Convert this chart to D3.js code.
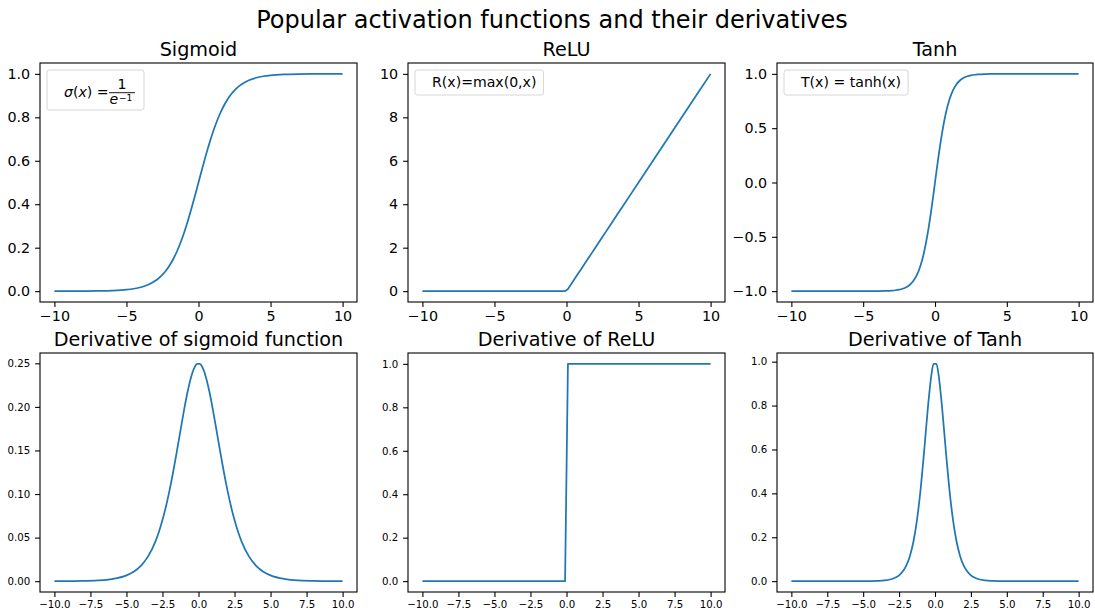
<!DOCTYPE html>
<html>
<head>
<meta charset="utf-8">
<script src="https://cdn.jsdelivr.net/npm/d3@7"></script>
<style>
  body { margin: 0; background: #fff; }
  text { font-family: "DejaVu Sans", sans-serif; fill: #000; }
</style>
</head>
<body>
<svg id="chart" width="1095" height="612"></svg>
<script>
// Sample points shared by every curve
const xs = [-10, -9, -8, -7, -6, -5, -4.5, -4, -3.5, -3, -2.75, -2.5, -2.25, -2, -1.75, -1.5, -1.25, -1, -0.75, -0.5, -0.25, -0.1,
            0.1, 0.25, 0.5, 0.75, 1, 1.25, 1.5, 1.75, 2, 2.25, 2.5, 2.75, 3, 3.5, 4, 4.5, 5, 6, 7, 8, 9, 10];

const sigmoidY = [0.00005, 0.00012, 0.00034, 0.00091, 0.00247, 0.00669, 0.01099, 0.01799, 0.02931, 0.04743, 0.06009, 0.07586,
                  0.09535, 0.11920, 0.14805, 0.18243, 0.22270, 0.26894, 0.32082, 0.37754, 0.43782, 0.47502,
                  0.52498, 0.56218, 0.62246, 0.67918, 0.73106, 0.77730, 0.81757, 0.85195, 0.88080, 0.90465, 0.92414,
                  0.93991, 0.95257, 0.97069, 0.98201, 0.98901, 0.99331, 0.99753, 0.99909, 0.99966, 0.99988, 0.99995];

const reluY = [0, 0, 0, 0, 0, 0, 0, 0, 0, 0, 0, 0, 0, 0, 0, 0, 0, 0, 0, 0, 0, 0,
               0.1, 0.25, 0.5, 0.75, 1, 1.25, 1.5, 1.75, 2, 2.25, 2.5, 2.75, 3, 3.5, 4, 4.5, 5, 6, 7, 8, 9, 10];

const tanhY = [-1, -1, -1, -0.99999, -0.99999, -0.99991, -0.99975, -0.99933, -0.99818, -0.99505, -0.99186, -0.98661,
               -0.97803, -0.96403, -0.94138, -0.90515, -0.84828, -0.76159, -0.63515, -0.46212, -0.24492, -0.09967,
               0.09967, 0.24492, 0.46212, 0.63515, 0.76159, 0.84828, 0.90515, 0.94138, 0.96403, 0.97803, 0.98661,
               0.99186, 0.99505, 0.99818, 0.99933, 0.99975, 0.99991, 0.99999, 0.99999, 1, 1, 1];

const dSigmoidY = [0.00005, 0.00012, 0.00034, 0.00091, 0.00247, 0.00665, 0.01087, 0.01766, 0.02845, 0.04518, 0.05648, 0.07011,
                   0.08626, 0.10499, 0.12613, 0.14915, 0.17310, 0.19661, 0.21789, 0.23500, 0.24613, 0.24938,
                   0.24938, 0.24613, 0.23500, 0.21789, 0.19661, 0.17310, 0.14915, 0.12613, 0.10499, 0.08626, 0.07011,
                   0.05648, 0.04518, 0.02845, 0.01766, 0.01087, 0.00665, 0.00247, 0.00091, 0.00034, 0.00012, 0.00005];

const dReluY = [0, 0, 0, 0, 0, 0, 0, 0, 0, 0, 0, 0, 0, 0, 0, 0, 0, 0, 0, 0, 0, 0,
                1, 1, 1, 1, 1, 1, 1, 1, 1, 1, 1, 1, 1, 1, 1, 1, 1, 1, 1, 1, 1, 1];

const dTanhY = [0, 0, 0, 0, 0.00002, 0.00018, 0.00049, 0.00134, 0.00364, 0.00987, 0.01621, 0.02660,
                0.04346, 0.07065, 0.11380, 0.18070, 0.28042, 0.41998, 0.59659, 0.78645, 0.94001, 0.99007,
                0.99007, 0.94001, 0.78645, 0.59659, 0.41998, 0.28042, 0.18070, 0.11380, 0.07065, 0.04346, 0.02660,
                0.01621, 0.00987, 0.00364, 0.00134, 0.00049, 0.00018, 0.00002, 0, 0, 0, 0];

// Tick values
const topXTicks = [-10, -5, 0, 5, 10];
const bottomXTicks = [-10, -7.5, -5, -2.5, 0, 2.5, 5, 7.5, 10];
const sigmoidTicks = [0, 0.2, 0.4, 0.6, 0.8, 1.0];
const reluTicks = [0, 2, 4, 6, 8, 10];
const tanhTicks = [-1, -0.5, 0, 0.5, 1];
const dSigmoidTicks = [0, 0.05, 0.10, 0.15, 0.20, 0.25];
const dReluTicks = [0, 0.2, 0.4, 0.6, 0.8, 1.0];
const dTanhTicks = [0, 0.2, 0.4, 0.6, 0.8, 1.0];

const suptitle = "Popular activation functions and their derivatives";
const titles = ["Sigmoid", "ReLU", "Tanh", "Derivative of sigmoid function", "Derivative of ReLU", "Derivative of Tanh"];
const legendLabels = [null, "R(x)=max(0,x)", "T(x) = tanh(x)"];

const LINE = "#1f77b4";
const svg = d3.select("#chart");

const cols = [{ l: 40, r: 357 }, { l: 408, r: 725 }, { l: 777, r: 1093 }];
const rows = [{ t: 63, b: 302 }, { t: 353, b: 592 }];

const panels = [
  { ys: sigmoidY, xt: topXTicks, yt: sigmoidTicks, xf: "d", yf: ".1f", fs: 14.3, curve: d3.curveMonotoneX },
  { ys: reluY, xt: topXTicks, yt: reluTicks, xf: "d", yf: "d", fs: 14.3, curve: d3.curveLinear },
  { ys: tanhY, xt: topXTicks, yt: tanhTicks, xf: "d", yf: ".1f", fs: 14.3, curve: d3.curveMonotoneX },
  { ys: dSigmoidY, xt: bottomXTicks, yt: dSigmoidTicks, xf: ".1f", yf: ".2f", fs: 10.2, curve: d3.curveMonotoneX },
  { ys: dReluY, xt: bottomXTicks, yt: dReluTicks, xf: ".1f", yf: ".1f", fs: 10.2, curve: d3.curveLinear },
  { ys: dTanhY, xt: bottomXTicks, yt: dTanhTicks, xf: ".1f", yf: ".1f", fs: 10.2, curve: d3.curveMonotoneX }
];

// padded domain, 5% of the data span on each side
function padded(values) {
  const [lo, hi] = d3.extent(values);
  const m = (hi - lo) * 0.05;
  return [lo - m, hi + m];
}

svg.append("text")
  .attr("x", 552).attr("y", 28)
  .attr("text-anchor", "middle")
  .style("font-size", "24px")
  .text(suptitle);

panels.forEach((p, i) => {
  const c = cols[i % 3], r = rows[Math.floor(i / 3)];
  const x = d3.scaleLinear().domain(padded(xs)).range([c.l, c.r]);
  const y = d3.scaleLinear().domain(padded(p.ys)).range([r.b, r.t]);
  const g = svg.append("g");

  const xAxis = g.append("g").attr("transform", `translate(0,${r.b})`)
    .call(d3.axisBottom(x).tickValues(p.xt).tickSize(4.9).tickPadding(3.6).tickFormat(d3.format(p.xf)));
  const yAxis = g.append("g").attr("transform", `translate(${c.l},0)`)
    .call(d3.axisLeft(y).tickValues(p.yt).tickSize(4.9).tickPadding(4.9).tickFormat(d3.format(p.yf)));
  [xAxis, yAxis].forEach(a => {
    a.select(".domain").remove();
    a.selectAll("line").attr("stroke", "#000").attr("stroke-width", 1.1);
    a.selectAll("text").attr("fill", "#000").style("font-size", p.fs + "px")
      .style("font-family", "'DejaVu Sans', sans-serif");
  });

  g.append("path")
    .datum(xs.map((v, k) => [v, p.ys[k]]))
    .attr("fill", "none")
    .attr("stroke", LINE)
    .attr("stroke-width", 1.75)
    .attr("stroke-linejoin", "round")
    .attr("d", d3.line().x(d => x(d[0])).y(d => y(d[1])).curve(p.curve));

  g.append("rect")
    .attr("x", c.l).attr("y", r.t)
    .attr("width", c.r - c.l).attr("height", r.b - r.t)
    .attr("fill", "none").attr("stroke", "#000").attr("stroke-width", 1.1);

  g.append("text")
    .attr("x", (c.l + c.r) / 2).attr("y", r.t - 7)
    .attr("text-anchor", "middle")
    .style("font-size", "19.2px")
    .text(titles[i]);

  // legends for the top row
  if (i === 1 || i === 2) {
    const bx = c.l + 7, by = r.t + 7;
    const box = g.append("rect").attr("x", bx).attr("y", by).attr("height", 25)
      .attr("rx", 2.5).attr("fill", "#fff").attr("fill-opacity", 0.8)
      .attr("stroke", "#d6d6d6").attr("stroke-width", 1);
    const t = g.append("text").attr("x", bx + 17).attr("y", by + 17.3)
      .style("font-size", "14.1px").text(legendLabels[i]);
    box.attr("width", t.node().getComputedTextLength() + 24);
  }
  if (i === 0) {
    const bx = c.l + 7, by = r.t + 7;
    g.append("rect").attr("x", bx).attr("y", by).attr("width", 97).attr("height", 40)
      .attr("rx", 2.5).attr("fill", "#fff").attr("fill-opacity", 0.8)
      .attr("stroke", "#d6d6d6").attr("stroke-width", 1);
    const lhs = g.append("text").attr("x", bx + 17).attr("y", by + 27).style("font-size", "14.1px");
    lhs.append("tspan").style("font-style", "italic").text("σ");
    lhs.append("tspan").text("(");
    lhs.append("tspan").style("font-style", "italic").text("x");
    lhs.append("tspan").text(")");
    lhs.append("tspan").text(" = ");
    const fx = bx + 62, fw = 26;
    g.append("line").attr("x1", fx).attr("x2", fx + fw)
      .attr("y1", by + 22.7).attr("y2", by + 22.7)
      .attr("stroke", "#000").attr("stroke-width", 0.9);
    g.append("text").attr("x", fx + fw / 2).attr("y", by + 19.2)
      .attr("text-anchor", "middle").style("font-size", "14.1px").text("1");
    g.append("text").attr("x", fx + 0.5).attr("y", by + 34.3)
      .style("font-size", "14.1px").style("font-style", "italic").text("e");
    g.append("text").attr("x", fx + 10).attr("y", by + 31)
      .style("font-size", "9px").text("\u22121");
  }
});
</script>
</body>
</html>
